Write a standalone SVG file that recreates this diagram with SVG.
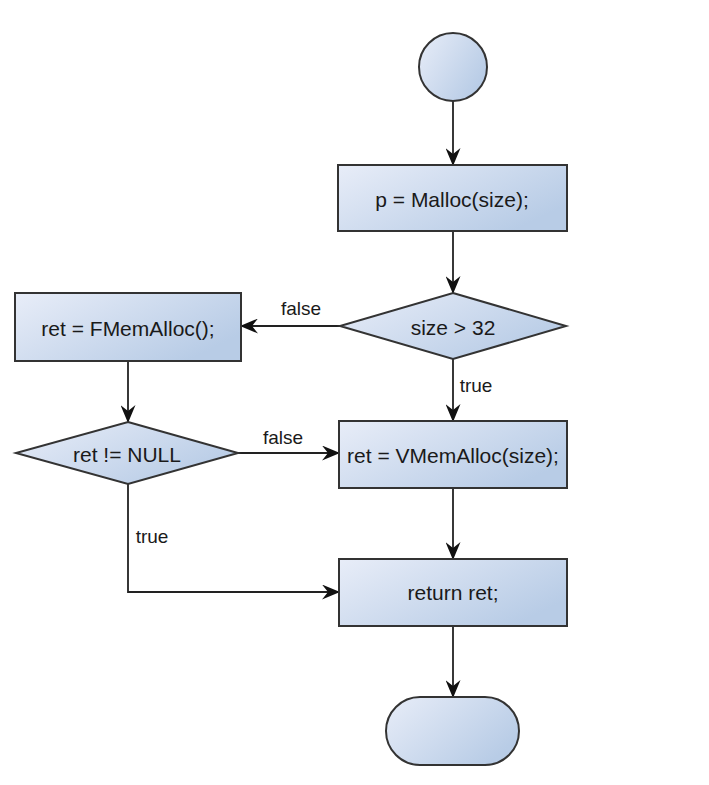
<svg xmlns="http://www.w3.org/2000/svg" width="709" height="785" viewBox="0 0 709 785">
<defs>
<linearGradient id="g" x1="0" y1="0" x2="1" y2="0.6">
<stop offset="0" stop-color="#e8edf8"/>
<stop offset="1" stop-color="#b8cce6"/>
</linearGradient>
<marker id="arr" viewBox="0 0 18 15" refX="17" refY="7.5" markerWidth="18" markerHeight="15" markerUnits="userSpaceOnUse" orient="auto">
<path d="M0,0 L18,7.5 L0,15 L6,7.5 Z" fill="#111"/>
</marker>
<style>
.n{fill:url(#g);stroke:#333;stroke-width:2}
.t{font-family:"Liberation Sans",Arial,sans-serif;font-size:21px;fill:#1a1a1a;text-anchor:middle;dominant-baseline:central}
.l{font-family:"Liberation Sans",Arial,sans-serif;font-size:19px;fill:#1a1a1a;text-anchor:middle;dominant-baseline:central}
.c{fill:none;stroke:#222;stroke-width:1.8;marker-end:url(#arr)}
</style>
</defs>
<rect width="709" height="785" fill="#fff"/>
<g id="connectors">
<line class="c" x1="453" y1="101" x2="453" y2="165"/>
<line class="c" x1="453" y1="231" x2="453" y2="293"/>
<line class="c" x1="342" y1="326" x2="241" y2="326"/>
<line class="c" x1="453" y1="359" x2="453" y2="421"/>
<line class="c" x1="128" y1="361" x2="128" y2="422"/>
<line class="c" x1="238" y1="453" x2="339" y2="453"/>
<line class="c" x1="453" y1="488" x2="453" y2="559"/>
<polyline class="c" points="128,484 128,592 339,592"/>
<line class="c" x1="453" y1="626" x2="453" y2="697"/>
<text class="l" x="301" y="308">false</text>
<text class="l" x="476" y="385">true</text>
<text class="l" x="283" y="437">false</text>
<text class="l" x="152" y="536">true</text>
</g>
<g id="start"><circle class="n" cx="453" cy="67" r="34"/></g>
<g id="malloc"><rect class="n" x="338" y="165" width="229" height="66"/><text class="t" x="452" y="199">p = Malloc(size);</text></g>
<g id="dec1"><polygon class="n" points="453,293 566,326 453,359 340,326"/><text class="t" x="453" y="327">size &gt; 32</text></g>
<g id="fmem"><rect class="n" x="15" y="293" width="226" height="68"/><text class="t" x="128" y="328">ret = FMemAlloc();</text></g>
<g id="dec2"><polygon class="n" points="128,422 238,453 128,484 16,453"/><text class="t" x="127" y="454">ret != NULL</text></g>
<g id="vmem"><rect class="n" x="339" y="421" width="228" height="67"/><text class="t" x="453" y="455">ret = VMemAlloc(size);</text></g>
<g id="ret"><rect class="n" x="339" y="559" width="228" height="67"/><text class="t" x="453" y="592">return ret;</text></g>
<g id="end"><rect class="n" x="386" y="697" width="133" height="68" rx="34" ry="34"/></g>
</svg>
